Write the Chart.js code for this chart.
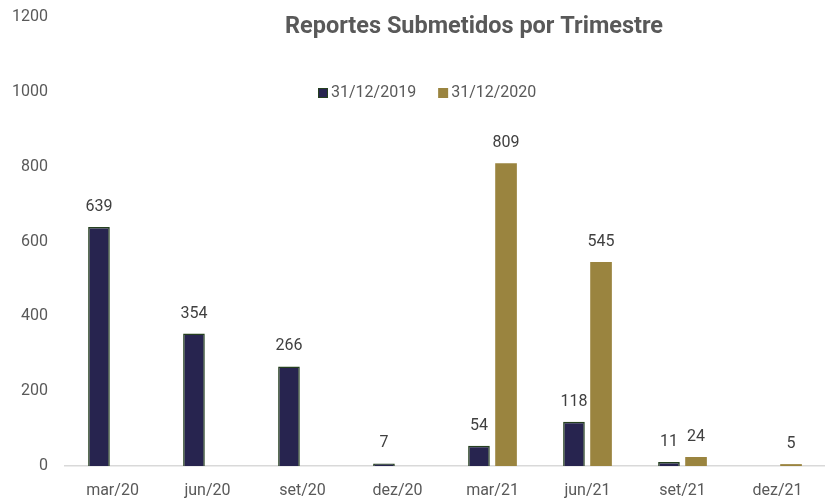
<!DOCTYPE html>
<html>
<head>
<meta charset="utf-8">
<script src="https://cdn.jsdelivr.net/npm/chart.js@4"></script>
<style>
html,body{margin:0;padding:0;background:#fff;overflow:hidden;}
#wrap{width:825px;height:501px;position:relative;}
</style>
</head>
<body>
<div id="wrap"><canvas id="c"></canvas></div>
<script>
const categories = ['mar/20','jun/20','set/20','dez/20','mar/21','jun/21','set/21','dez/21'];
const series2019 = [639, 354, 266, 7, 54, 118, 11, null];
const series2020 = [null, null, null, null, 809, 545, 24, 5];
const seriesLabels = ['31/12/2019', '31/12/2020'];
const yTicks = [0, 200, 400, 600, 800, 1000, 1200];
const chartTitle = 'Reportes Submetidos por Trimestre';

const FONT = 'Roboto, "Open Sans", sans-serif';
const TEXT = '#595959';

const overlay = {
  id: 'overlay',
  afterDatasetsDraw(chart) {
    const ctx = chart.ctx;
    ctx.save();
    ctx.font = '16px ' + FONT;
    ctx.fillStyle = '#404040';
    ctx.textAlign = 'center';
    ctx.textBaseline = 'bottom';
    chart.data.datasets.forEach((ds, i) => {
      const meta = chart.getDatasetMeta(i);
      meta.data.forEach((bar, j) => {
        const v = ds.data[j];
        if (v === null || v === undefined) return;
        ctx.fillText(String(v), bar.x, bar.y - 12);
      });
    });
    ctx.font = 'bold 23.5px ' + FONT;
    ctx.fillStyle = TEXT;
    ctx.textBaseline = 'middle';
    ctx.fillText(chartTitle, 474, 27);
    ctx.font = '16px ' + FONT;
    ctx.textAlign = 'left';
    let x = 318;
    const y = 93;
    chart.data.datasets.forEach((ds) => {
      ctx.fillStyle = ds.backgroundColor;
      ctx.fillRect(x, y - 5, 10, 10);
      if (ds.borderWidth) {
        ctx.strokeStyle = ds.borderColor;
        ctx.lineWidth = 1;
        ctx.strokeRect(x + 0.5, y - 4.5, 9, 9);
      }
      ctx.fillStyle = TEXT;
      ctx.fillText(ds.label, x + 13, y);
      x += 13 + ctx.measureText(ds.label).width + 22;
    });
    ctx.restore();
  }
};

new Chart(document.getElementById('c'), {
  type: 'bar',
  data: {
    labels: categories,
    datasets: [
      { label: seriesLabels[0], data: series2019, backgroundColor: '#27244f', borderColor: '#25401f', borderWidth: 1.5 },
      { label: seriesLabels[1], data: series2020, backgroundColor: '#9a843f', borderColor: '#9a843f', borderWidth: 0 }
    ]
  },
  options: {
    responsive: true,
    maintainAspectRatio: false,
    animation: false,
    categoryPercentage: 0.57,
    barPercentage: 0.8,
    layout: { padding: { top: 17, left: 0, right: -8, bottom: 0 } },
    plugins: { legend: { display: false }, title: { display: false }, tooltip: { enabled: false } },
    scales: {
      x: {
        grid: { display: false, drawTicks: false },
        border: { display: true, color: '#d9d9d9', width: 1.5 },
        ticks: { color: TEXT, font: { family: FONT, size: 16 }, padding: 15, maxRotation: 0 },
        afterFit(axis) { axis.height = 35; axis.paddingLeft = 0; axis.paddingRight = 0; }
      },
      y: {
        min: 0, max: 1200,
        afterBuildTicks(axis) { axis.ticks = yTicks.map(v => ({ value: v })); },
        grid: { display: false, drawTicks: false },
        border: { display: false },
        ticks: { color: TEXT, font: { family: FONT, size: 16 }, padding: 17, callback: v => String(v) },
        afterFit(axis) { axis.width = 65; axis.paddingTop = 0; axis.paddingBottom = 0; }
      }
    }
  },
  plugins: [overlay]
});
</script>
</body>
</html>
